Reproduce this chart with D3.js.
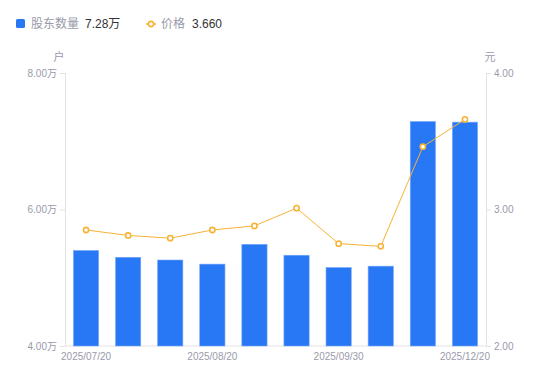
<!DOCTYPE html>
<html><head><meta charset="utf-8">
<script src="https://cdn.jsdelivr.net/npm/d3@7"></script>
<style>body{margin:0;background:#fff;} svg{font-family:"Liberation Sans","Noto Sans CJK SC",sans-serif;}</style>
</head><body><svg id="c" width="550" height="381"></svg>
<script>
const categories = ["2025/07/20","2025/07/31","2025/08/10","2025/08/20","2025/08/31","2025/09/10","2025/09/30","2025/10/31","2025/11/30","2025/12/20"];
const holders = [5.40,5.30,5.26,5.20,5.49,5.33,5.15,5.17,7.29,7.28];
const prices = [2.85,2.81,2.79,2.85,2.88,3.01,2.75,2.73,3.46,3.66];
const leftTicks = [4,6,8];
const rightTicks = [2,3,4];
const shownLabels = ["2025/07/20","2025/08/20","2025/09/30","2025/12/20"];

const svg = d3.select("#c");
const L=65,R=486,T=73,B=346;
const x = d3.scaleBand().domain(categories).range([L,R]).paddingInner(0.4).paddingOuter(0.2);
const yL = d3.scaleLinear().domain([4,8]).range([B,T]);
const yR = d3.scaleLinear().domain([2,4]).range([B,T]);
const gray="#9a9aaa", axisC="#e3e3e6", blue="#2878f5", orange="#f7b336";
const ff = "'Liberation Sans','Noto Sans CJK SC',sans-serif";

const gl = svg.append("g").attr("transform",`translate(${L},0)`)
  .call(d3.axisLeft(yL).tickValues(leftTicks).tickSize(5).tickPadding(3).tickFormat(d=>d3.format(".2f")(d)+"万"));
const gr = svg.append("g").attr("transform",`translate(${R},0)`)
  .call(d3.axisRight(yR).tickValues(rightTicks).tickSize(5).tickPadding(3).tickFormat(d3.format(".2f")));
const gb = svg.append("g").attr("transform",`translate(0,${B})`)
  .call(d3.axisBottom(x).tickValues(shownLabels).tickSize(0).tickPadding(7));
[gl,gr,gb].forEach(g=>{
  g.selectAll("path.domain").attr("stroke",axisC);
  g.selectAll(".tick line").attr("stroke",axisC);
  g.selectAll("text").attr("fill",gray).style("font-size","10px").style("font-family",ff);
});
gb.select("path.domain").attr("d",`M${L},0H${R}`);

svg.append("text").attr("x",59).attr("y",61).attr("text-anchor","middle").attr("fill",gray).style("font-size","11px").text("户");
svg.append("text").attr("x",490).attr("y",61).attr("text-anchor","middle").attr("fill",gray).style("font-size","11px").text("元");

svg.append("g").selectAll("rect").data(categories).join("rect")
  .attr("x",d=>x(d)).attr("width",x.bandwidth())
  .attr("y",(d,i)=>yL(holders[i])).attr("height",(d,i)=>B-yL(holders[i]))
  .attr("fill",blue).attr("stroke","#7aaaf8").attr("stroke-width",0.6);

const line = d3.line().x((d,i)=>x(categories[i])+x.bandwidth()/2).y(d=>yR(d));
svg.append("path").datum(prices).attr("d",line).attr("fill","none").attr("stroke",orange).attr("stroke-width",1);
svg.append("g").selectAll("circle").data(prices).join("circle")
  .attr("cx",(d,i)=>x(categories[i])+x.bandwidth()/2).attr("cy",d=>yR(d)).attr("r",2.6)
  .attr("fill","#fff").attr("stroke",orange).attr("stroke-width",1.6);

const lg = svg.append("g").style("font-size","12px");
lg.append("rect").attr("x",16).attr("y",19).attr("width",9).attr("height",9).attr("rx",1.5).attr("fill",blue);
lg.append("text").attr("x",31).attr("y",28).attr("fill",gray).text("股东数量");
lg.append("text").attr("x",85).attr("y",28).attr("fill","#333").text(d3.format(".2f")(holders[holders.length-1])+"万");
lg.append("line").attr("x1",146).attr("x2",156).attr("y1",24).attr("y2",24).attr("stroke",orange).attr("stroke-width",1.5);
lg.append("circle").attr("cx",151).attr("cy",24).attr("r",2.6).attr("fill","#fff").attr("stroke",orange).attr("stroke-width",1.6);
lg.append("text").attr("x",161).attr("y",28).attr("fill",gray).text("价格");
lg.append("text").attr("x",192).attr("y",28).attr("fill","#333").text(d3.format(".3f")(prices[prices.length-1]));
</script></body></html>
